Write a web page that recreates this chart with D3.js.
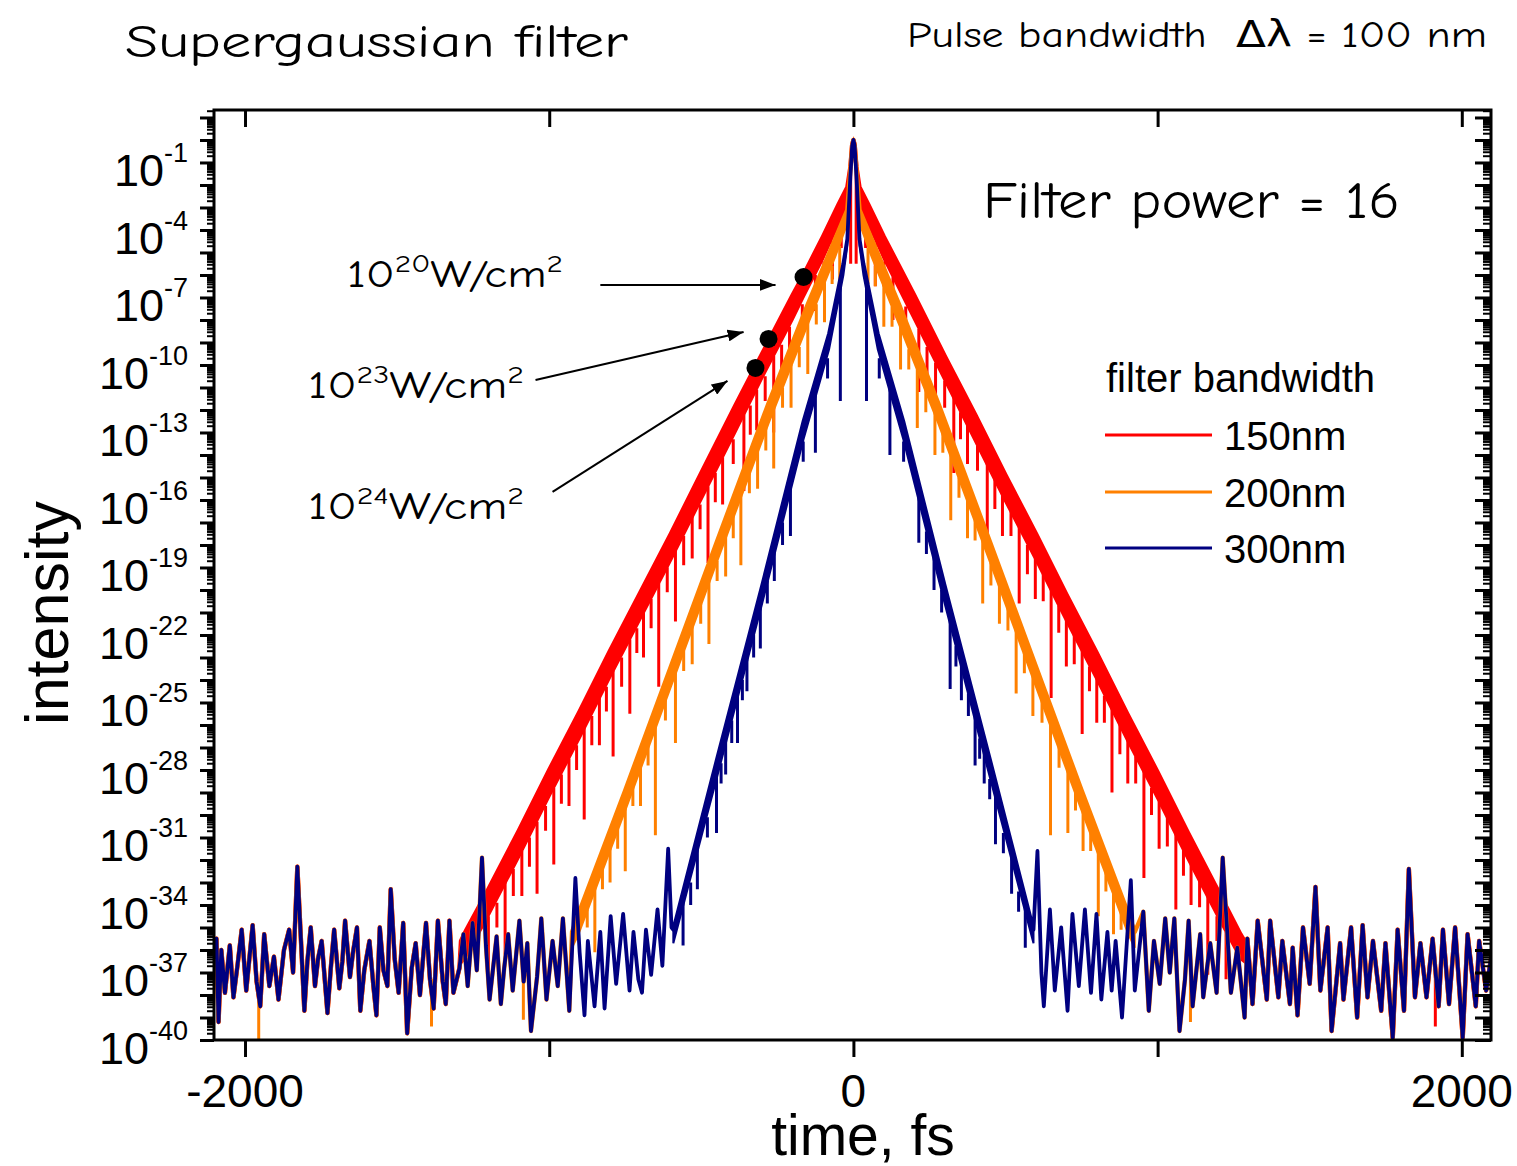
<!DOCTYPE html>
<html>
<head>
<meta charset="utf-8">
<script src="https://cdn.jsdelivr.net/npm/d3@7"></script>
<style>
  body { margin: 0; background: #fff; }
  svg text { font-family: Arial, "Liberation Sans", sans-serif; fill: #000; }
  svg text.comic { font-family: "Comic Sans MS", "Comic Neue", "DejaVu Sans", sans-serif; }
</style>
</head>
<body>
<svg id="chart" width="1517" height="1166"></svg>
<script>
// Axes
const timeDomain = [-2102, 2096];
const intensityDomain = [1e-40, 21.5];
const timeTicks = [-2000, -1000, 0, 1000, 2000];
const timeLabels = [-2000, 0, 2000];
const decadeLabels = [-1, -4, -7, -10, -13, -16, -19, -22, -25, -28, -31, -34, -37, -40];

// Series: all values are log10(intensity)
const seriesNames = ['150nm', '200nm', '300nm'];
const seriesColors = ['#ff0000', '#ff8000', '#000080'];

// shared noise floor, left and right of the pulses [t, log]
const floorLeft = [
  [-2100,-36.4],[-2094,-35.5],[-2087,-39.2],[-2078,-36.0],[-2066,-37.9],[-2050,-35.8],[-2038,-38.1],[-2024,-36.6],
  [-2011,-35.1],[-1996,-37.8],[-1975,-34.9],[-1962,-37.4],[-1950,-38.5],[-1937,-35.3],[-1920,-37.6],[-1905,-36.3],
  [-1890,-38.2],[-1872,-36.0],[-1855,-35.1],[-1842,-37.0],[-1828,-32.3],[-1816,-35.6],[-1805,-38.7],[-1795,-36.5],
  [-1784,-35.0],[-1770,-37.6],[-1760,-36.4],[-1748,-35.6],[-1729,-38.8],[-1718,-36.8],[-1707,-35.1],[-1690,-37.7],
  [-1680,-36.5],[-1671,-34.7],[-1655,-37.2],[-1645,-36.1],[-1632,-35.0],[-1621,-38.7],[-1608,-36.9],[-1591,-35.6],
  [-1578,-37.6],[-1568,-38.9],[-1557,-35.0],[-1545,-36.9],[-1532,-37.6],[-1521,-33.3],[-1508,-36.4],[-1495,-37.9],
  [-1480,-34.8],[-1467,-39.7],[-1452,-36.8],[-1439,-35.7],[-1425,-38.0],[-1405,-34.8],[-1392,-37.3],[-1380,-38.6],
  [-1366,-34.7],[-1350,-37.4],[-1340,-38.4],[-1328,-34.7],[-1315,-37.9],[-1295,-36.8],[-1282,-35.3],[-1268,-37.6],
  [-1252,-34.8],[-1238,-36.9],[-1221,-31.9],[-1208,-35.8],[-1196,-38.2],[-1173,-35.4],[-1159,-38.4],[-1148,-36.8],
  [-1135,-35.3],[-1120,-37.8],[-1098,-34.7],[-1084,-37.4],[-1072,-35.7],[-1060,-39.6],[-1040,-37.2],[-1026,-34.6],
  [-1009,-38.2],[-989,-35.6],[-972,-37.6],[-955,-34.6],[-934,-38.7],[-914,-32.8],[-900,-36.1],[-884,-38.9],
  [-873,-35.6],[-851,-38.5],[-832,-35.2],[-818,-38.6],[-798,-34.5],[-780,-37.5],[-757,-34.4],[-736,-37.8],
  [-723,-35.2],[-707,-37.3],[-695,-37.9],[-682,-35.1],[-665,-37.1],[-644,-34.2],[-628,-36.7],[-609,-31.5],
  [-598,-35.0]
];
const floorRight = [
  [605,-31.6],[618,-37.0],[626,-38.5],[646,-34.2],[662,-37.8],[683,-35.0],[704,-38.7],[720,-34.4],
  [741,-37.6],[761,-34.2],[781,-37.9],[799,-34.4],[815,-38.2],[835,-35.2],[849,-37.8],[862,-35.6],
  [883,-39.0],[912,-32.9],[925,-37.8],[953,-34.3],[971,-38.7],[988,-35.6],[1007,-37.5],[1025,-34.6],
  [1040,-37.0],[1055,-34.6],[1072,-39.6],[1090,-37.3],[1102,-34.7],[1115,-38.5],[1140,-35.3],[1150,-38.1],
  [1173,-35.7],[1194,-37.9],[1214,-31.9],[1241,-37.9],[1262,-35.9],[1286,-39.0],[1295,-35.5],[1312,-38.4],
  [1329,-34.7],[1359,-38.2],[1370,-34.7],[1397,-38.1],[1410,-35.6],[1435,-38.4],[1444,-35.9],[1460,-38.9],
  [1478,-35.0],[1500,-37.5],[1519,-33.2],[1535,-37.8],[1559,-35.0],[1572,-39.6],[1600,-35.7],[1611,-38.2],
  [1636,-35.0],[1656,-39.0],[1674,-34.9],[1690,-38.1],[1708,-35.6],[1735,-38.7],[1749,-35.7],[1773,-39.9],
  [1789,-35.1],[1810,-38.7],[1826,-32.4],[1846,-38.1],[1864,-35.7],[1884,-38.1],[1904,-35.5],[1924,-38.5],
  [1938,-35.1],[1958,-38.4],[1978,-35.0],[2003,-39.9],[2019,-35.3],[2046,-38.5],[2057,-35.6],[2080,-37.8],
  [2100,-36.0]
];

// pulse bands [t, upper edge, lower edge of the dense fringes]
const redBand = [
  [-1290,-35.6,-36.6],[-1272,-35.1,-36.3],[-1200,-33.3,-34.5],[-1100,-30.7,-31.9],[-1000,-28.0,-29.2],
  [-900,-25.4,-26.6],[-800,-22.7,-23.9],[-700,-20.1,-21.3],[-600,-17.5,-18.7],[-500,-14.8,-16.0],
  [-388,-11.8,-13.0],[-300,-9.5,-10.6],[-200,-6.9,-8.0],[-164,-6.0,-7.0],[-100,-4.3,-5.3],[-50,-2.9,-3.8],
  [-20,-2.1,-2.9],[-10,-1.2,-1.2],[-4,-0.2,-0.2],[0,0,0],[4,-0.2,-0.2],[10,-1.2,-1.2],[20,-2.1,-2.9],
  [50,-2.9,-3.8],[100,-4.3,-5.3],[200,-6.9,-8.0],[300,-9.6,-10.7],[400,-12.2,-13.4],[500,-14.9,-16.1],
  [600,-17.5,-18.7],[700,-20.2,-21.4],[800,-22.8,-24.0],[900,-25.5,-26.7],[1000,-28.1,-29.3],
  [1100,-30.8,-32.0],[1200,-33.4,-34.6],[1272,-35.3,-36.4],[1290,-35.7,-36.6]
];
const orangeBand = [
  [-925,-35.2,-35.9],[-904,-34.4,-35.3],[-750,-28.9,-29.8],[-600,-23.4,-24.3],[-450,-17.9,-18.8],
  [-279,-11.7,-12.6],[-150,-7.3,-8.2],[-60,-4.4,-5.2],[-20,-3.1,-3.7],[-10,-1.3,-1.3],[-4,-0.2,-0.2],
  [0,0,0],[4,-0.2,-0.2],[10,-1.3,-1.3],[20,-3.1,-3.7],[60,-4.4,-5.2],[150,-7.3,-8.2],[279,-11.7,-12.6],
  [450,-17.9,-18.8],[600,-23.4,-24.3],[750,-28.9,-29.8],[904,-34.4,-35.3],[925,-35.2,-35.9]
];
const blueBand = [
  [-592,-35.1,-35.7],[-450,-27.6,-28.4],[-300,-19.8,-20.6],[-164,-12.5,-13.3],[-80,-8.6,-9.3],
  [-33,-5.5,-6.0],[-20,-4.4,-4.7],[-10,-1.6,-1.6],[-4,-0.25,-0.25],[0,0,0],[4,-0.25,-0.25],[10,-1.6,-1.6],
  [20,-4.4,-4.7],[33,-5.5,-6.0],[80,-8.6,-9.3],[164,-12.5,-13.3],[300,-19.8,-20.6],[450,-27.6,-28.4],
  [592,-35.1,-35.7]
];

// deep downward spikes [t, from, to]
const redDips = [
  [-1200,-34.5,-36.9],[-1145,-33.0,-36.2],[-1090,-31.6,-33.6],[-1040,-30.3,-33.5],[-985,-28.8,-32.2],
  [-935,-27.5,-29.6],[-885,-26.1,-30.2],[-835,-24.8,-26.9],[-790,-23.6,-27.4],[-735,-22.2,-25.5],
  [-690,-21.0,-23.0],[-640,-19.7,-24.3],[-585,-18.2,-21.4],[-530,-16.7,-18.6],[-478,-15.4,-18.8],
  [-430,-14.1,-16.2],[-360,-12.2,-15.6],[-318,-11.1,-12.9],[-262,-9.6,-13.0],[-210,-8.3,-10.2],
  [-125,-6.0,-7.6],[-69,-4.5,-6.2],[-9,-1.2,-5.5],[9,-1.2,-5.5],[72,-4.6,-6.5],[130,-6.1,-8.0],
  [215,-8.4,-11.2],[270,-9.9,-11.8],[330,-11.4,-14.8],[375,-12.6,-14.4],[440,-14.4,-17.9],
  [490,-15.7,-17.6],[545,-17.1,-20.6],[598,-18.6,-20.4],[650,-19.9,-24.8],[700,-21.3,-23.4],
  [752,-22.6,-26.4],[800,-23.9,-25.9],[850,-25.2,-29.0],[902,-26.6,-28.6],[955,-28.0,-32.8],
  [1005,-29.4,-31.5],[1060,-30.8,-34.2],[1110,-32.1,-34.0],[1165,-33.6,-37.1],[1225,-35.2,-37.3],
  [1913,-37.0,-39.4]
];
const orangeDips = [
  [-1955,-37.4,-40.0],[-1387,-37.3,-39.4],[-1085,-37.0,-39.1],[-850,-33.0,-36.1],[-800,-31.2,-33.0],
  [-750,-29.4,-32.5],[-700,-27.6,-29.6],[-651,-25.9,-30.9],[-585,-23.5,-26.8],[-530,-21.5,-23.3],
  [-475,-19.5,-22.4],[-420,-17.6,-19.4],[-370,-15.7,-18.9],[-315,-13.8,-15.5],[-262,-11.9,-14.6],
  [-205,-10.0,-11.9],[-150,-8.1,-10.4],[-95,-6.2,-8.1],[-45,-4.7,-6.3],[48,-4.8,-6.4],[100,-6.4,-8.3],
  [155,-8.3,-10.2],[210,-10.2,-12.8],[268,-12.1,-14.0],[320,-14.0,-16.9],[375,-15.9,-17.7],
  [425,-17.8,-20.6],[480,-19.7,-21.5],[535,-21.7,-24.6],[590,-23.7,-25.6],[648,-25.8,-30.9],
  [705,-27.8,-30.8],[755,-29.6,-31.6],[805,-31.4,-34.5],[855,-33.2,-35.3],[1108,-37.0,-39.2]
];
const blueDips = [
  [-560,-33.5,-35.8],[-513,-31.1,-33.3],[-450,-28.1,-30.8],[-420,-26.6,-28.2],[-381,-24.6,-26.8],
  [-350,-22.9,-24.5],[-306,-20.6,-22.6],[-260,-18.1,-19.6],[-207,-15.3,-17.6],[-125,-11.0,-13.9],
  [-43,-6.3,-11.6],[43,-6.3,-11.6],[120,-10.8,-14.0],[215,-15.7,-17.9],[265,-18.3,-20.0],
  [318,-21.2,-24.4],[355,-23.1,-24.9],[400,-25.5,-27.8],[430,-27.1,-28.6],[467,-29.0,-31.3],
  [520,-31.6,-33.5],[565,-33.8,-35.9]
];

// short fringe spikes hanging under each band [t, from, to]
const redFringe = [
  [-1172,-33.9,-35.0],[-1118,-32.4,-33.6],[-1065,-31.0,-32.3],[-1012,-29.6,-30.7],[-960,-28.2,-29.5],
  [-910,-26.9,-28.0],[-860,-25.6,-26.9],[-812,-24.3,-25.4],[-762,-23.0,-24.3],[-712,-21.7,-22.8],
  [-665,-20.4,-21.7],[-612,-19.0,-20.1],[-558,-17.6,-18.9],[-504,-16.2,-17.3],[-454,-14.8,-16.1],
  [-395,-13.3,-14.4],[-339,-11.8,-13.1],[-290,-10.5,-11.6],[-236,-9.1,-10.3],[-168,-7.3,-8.4],
  [-97,-5.4,-6.4],[-40,-3.9,-4.8],[40,-3.9,-4.8],[100,-5.4,-6.5],[172,-7.4,-8.6],[242,-9.2,-10.5],
  [300,-10.7,-11.9],[352,-12.1,-13.3],[408,-13.6,-14.7],[465,-15.1,-16.4],[518,-16.5,-17.6],
  [572,-18.0,-19.3],[624,-19.3,-20.5],[675,-20.7,-21.9],[726,-22.0,-23.3],[776,-23.4,-24.5],
  [825,-24.7,-25.9],[876,-26.0,-27.3],[928,-27.4,-28.6],[980,-28.8,-30.0],[1032,-30.1,-31.4],
  [1085,-31.5,-32.7],[1138,-32.9,-34.1],[1195,-34.5,-35.6]
];
const orangeFringe = [
  [-875,-34.2,-35.0],[-825,-32.4,-33.3],[-775,-30.6,-31.5],[-725,-28.7,-29.6],[-675,-26.9,-27.8],
  [-618,-24.8,-25.8],[-558,-22.7,-23.6],[-502,-20.6,-21.5],[-448,-18.7,-19.6],[-395,-16.7,-17.7],
  [-342,-14.8,-15.7],[-288,-12.8,-13.8],[-233,-11.0,-11.9],[-178,-9.2,-10.1],[-122,-7.3,-8.2],
  [-70,-5.6,-6.4],[72,-5.6,-6.5],[127,-7.4,-8.3],[182,-9.3,-10.2],[238,-11.1,-12.1],[294,-13.0,-13.9],
  [347,-15.0,-15.9],[400,-16.9,-17.8],[452,-18.8,-19.8],[508,-20.8,-21.8],[562,-22.8,-23.7],
  [620,-24.9,-25.9],[676,-26.9,-27.9],[730,-28.9,-29.8],[780,-30.7,-31.6],[830,-32.5,-33.4],
  [880,-34.3,-35.1]
];
const blueFringe = [
  [-535,-33.0,-34.0],[-480,-30.1,-31.0],[-435,-27.7,-28.6],[-400,-25.8,-26.8],[-365,-24.0,-24.9],
  [-328,-22.0,-23.0],[-283,-19.6,-20.6],[-233,-17.0,-18.0],[-165,-13.4,-14.3],[-85,-9.7,-10.6],
  [85,-9.7,-10.6],[165,-13.4,-14.3],[240,-17.4,-18.4],[290,-20.0,-21.0],[337,-22.5,-23.4],
  [378,-24.6,-25.6],[415,-26.6,-27.5],[448,-28.4,-29.3],[493,-30.8,-31.7],[543,-33.4,-34.3]
];

// annotations: dots on the red curve and arrows [t0, log0, t1, log1]
const markerPoints = [[-164,-6.09],[-279,-8.84],[-322,-10.13]];
const arrowLines = [[-832,-6.44,-256,-6.44],[-1045,-10.67,-361,-8.53],[-989,-15.64,-414,-10.71]];
const intensityNotes = ['20', '23', '24'];

const svg = d3.select('#chart');
const plot = { left: 214, right: 1491, top: 110, bottom: 1040 };

const x = d3.scaleLinear().domain(timeDomain).range([plot.left, plot.right]);
const y = d3.scaleLog().domain(intensityDomain).range([plot.bottom, plot.top]);
const Y = (e) => y(Math.pow(10, e));

svg.append('defs').append('clipPath').attr('id', 'clip')
  .append('rect')
  .attr('x', plot.left).attr('y', plot.top)
  .attr('width', plot.right - plot.left).attr('height', plot.bottom - plot.top);

// ---- curves (red, orange, then blue on top)
const curves = svg.append('g').attr('clip-path', 'url(#clip)');
const bands = [redBand, orangeBand, blueBand];
const dips = [redDips, orangeDips, blueDips];
const fringes = [redFringe, orangeFringe, blueFringe];
const widths = [4.4, 4.4, 3.8];

const area = d3.area().x((d) => x(d[0])).y0((d) => Y(d[1])).y1((d) => Y(d[2]));
const line = d3.line().x((d) => x(d[0])).y((d) => Y(d[1]));

function spikes(g, data, color, w) {
  g.append('g').selectAll('line').data(data).join('line')
    .attr('x1', (d) => x(d[0])).attr('x2', (d) => x(d[0]))
    .attr('y1', (d) => Y(d[1])).attr('y2', (d) => Y(d[2]))
    .attr('stroke', color).attr('stroke-width', w);
}

bands.forEach((band, i) => {
  const t0 = band[0][0];
  const t1 = band[band.length - 1][0];
  const pts = floorLeft.filter((p) => p[0] < t0)
    .concat(band.map((b) => [b[0], b[1]]))
    .concat(floorRight.filter((p) => p[0] > t1));
  const g = curves.append('g');
  g.append('path').datum(band).attr('d', area)
    .attr('fill', seriesColors[i]).attr('stroke', seriesColors[i]).attr('stroke-width', 2);
  g.append('path').datum(pts).attr('d', line)
    .attr('fill', 'none').attr('stroke', seriesColors[i])
    .attr('stroke-width', widths[i]).attr('stroke-linejoin', 'round');
  spikes(g, fringes[i], seriesColors[i], 3);
  spikes(g, dips[i], seriesColors[i], 3);
});

// ---- axes
const majorVals = d3.range(-40, 2).map((e) => Math.pow(10, e));
const minorVals = [];
d3.range(-40, 2).forEach((e) => {
  for (let k = 2; k <= 9; k++) {
    const v = k * Math.pow(10, e);
    if (v <= intensityDomain[1]) minorVals.push(v);
  }
});

function styleAxis(g, w) {
  g.select('.domain').remove();
  g.selectAll('.tick line').attr('stroke', '#000').attr('stroke-width', w);
  g.selectAll('.tick text').remove();
}

const axes = svg.append('g');
axes.append('g').attr('transform', `translate(${plot.left},0)`)
  .call(d3.axisLeft(y).tickValues(minorVals).tickSize(7)).call(styleAxis, 2);
axes.append('g').attr('transform', `translate(${plot.left},0)`)
  .call(d3.axisLeft(y).tickValues(majorVals).tickSize(14)).call(styleAxis, 3);
axes.append('g').attr('transform', `translate(${plot.right},0)`)
  .call(d3.axisRight(y).tickValues(minorVals).tickSize(-8)).call(styleAxis, 2);
axes.append('g').attr('transform', `translate(${plot.right},0)`)
  .call(d3.axisRight(y).tickValues(majorVals).tickSize(-16)).call(styleAxis, 3);
axes.append('g').attr('transform', `translate(0,${plot.top})`)
  .call(d3.axisTop(x).tickValues(timeTicks).tickSize(-17)).call(styleAxis, 3);
axes.append('g').attr('transform', `translate(0,${plot.bottom})`)
  .call(d3.axisBottom(x).tickValues(timeTicks).tickSize(17)).call(styleAxis, 3);

axes.append('rect')
  .attr('x', plot.left).attr('y', plot.top)
  .attr('width', plot.right - plot.left).attr('height', plot.bottom - plot.top)
  .attr('fill', 'none').attr('stroke', '#000').attr('stroke-width', 3);

// y tick labels 10^n
decadeLabels.forEach((e) => {
  const t = axes.append('text')
    .attr('x', 188).attr('y', Y(e) + 24)
    .attr('text-anchor', 'end')
    .style('font-size', '45px');
  t.append('tspan').text('10');
  t.append('tspan').attr('dy', -24).style('font-size', '27px').text(e);
});

// x tick labels
axes.selectAll('.xlab').data(timeLabels).join('text')
  .attr('class', 'xlab')
  .attr('x', (d) => x(d)).attr('y', 1107)
  .attr('text-anchor', 'middle')
  .style('font-size', '46px')
  .text((d) => String(d));

// axis titles
svg.append('text')
  .attr('transform', 'translate(68,613) rotate(-90)')
  .attr('text-anchor', 'middle')
  .style('font-size', '61px')
  .text('intensity');
svg.append('text')
  .attr('x', 863).attr('y', 1155)
  .attr('text-anchor', 'middle')
  .style('font-size', '57px')
  .text('time, fs');

// ---- headings
svg.append('text').attr('class', 'comic')
  .attr('x', 125).attr('y', 57)
  .attr('textLength', 503).attr('lengthAdjust', 'spacingAndGlyphs')
  .style('font-size', '47px')
  .text('Supergaussian filter');
svg.append('text').attr('class', 'comic')
  .attr('x', 907).attr('y', 47)
  .attr('textLength', 580).attr('lengthAdjust', 'spacingAndGlyphs')
  .style('font-size', '37px').style('white-space', 'pre')
  .text('Pulse bandwidth  \u0394\u03bb = 100 nm');
svg.append('text').attr('class', 'comic')
  .attr('x', 983).attr('y', 218)
  .attr('textLength', 417).attr('lengthAdjust', 'spacingAndGlyphs')
  .style('font-size', '52px')
  .text('Filter power = 16');

// ---- annotations
const notePos = [[347, 287], [308, 398], [308, 519]];
intensityNotes.forEach((p, i) => {
  const t = svg.append('text').attr('class', 'comic')
    .attr('x', notePos[i][0]).attr('y', notePos[i][1])
    .attr('textLength', 216).attr('lengthAdjust', 'spacingAndGlyphs')
    .style('font-size', '38px');
  t.append('tspan').text('10');
  t.append('tspan').attr('dy', -15).style('font-size', '25px').text(p);
  t.append('tspan').attr('dy', 15).text('W/cm');
  t.append('tspan').attr('dy', -15).style('font-size', '25px').text('2');
});

svg.select('defs').append('marker')
  .attr('id', 'arrow')
  .attr('viewBox', '0 -6 16 12')
  .attr('refX', 16).attr('refY', 0)
  .attr('markerUnits', 'userSpaceOnUse')
  .attr('markerWidth', 16).attr('markerHeight', 12)
  .attr('orient', 'auto')
  .append('path').attr('d', 'M0,-6L16,0L0,6Z').attr('fill', '#000');

svg.append('g').selectAll('line').data(arrowLines).join('line')
  .attr('x1', (d) => x(d[0])).attr('y1', (d) => Y(d[1]))
  .attr('x2', (d) => x(d[2])).attr('y2', (d) => Y(d[3]))
  .attr('stroke', '#000').attr('stroke-width', 2)
  .attr('marker-end', 'url(#arrow)');

svg.append('g').selectAll('circle').data(markerPoints).join('circle')
  .attr('cx', (d) => x(d[0])).attr('cy', (d) => Y(d[1]))
  .attr('r', 9).attr('fill', '#000');

// ---- legend
const legend = svg.append('g');
legend.append('text').attr('x', 1106).attr('y', 392).style('font-size', '40px').text('filter bandwidth');
const legendY = [435, 492, 548];
seriesNames.forEach((name, i) => {
  legend.append('line')
    .attr('x1', 1105).attr('x2', 1212)
    .attr('y1', legendY[i]).attr('y2', legendY[i])
    .attr('stroke', seriesColors[i]).attr('stroke-width', 3);
  legend.append('text')
    .attr('x', 1224).attr('y', legendY[i] + 15)
    .style('font-size', '40px')
    .text(name);
});
</script>
</body>
</html>
